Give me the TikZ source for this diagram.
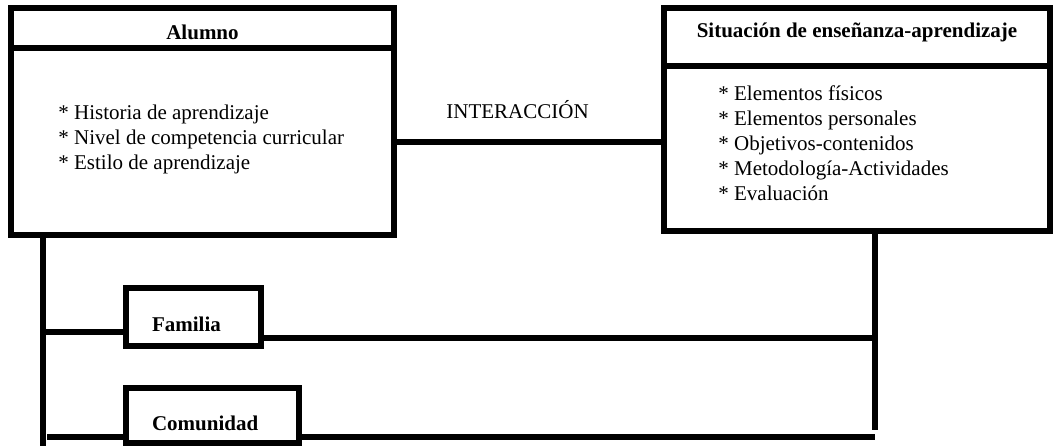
\documentclass[tikz,border=0pt]{standalone}
\usepackage{fontspec}
\setmainfont{Liberation Serif}
\usetikzlibrary{shapes}
\usetikzlibrary{positioning}
\tikzstyle{header} = [rectangle, draw=black, line width=3pt, text centered, font=\fontsize{10.5}{12.5}\selectfont\bfseries]
\tikzstyle{panel} = [rectangle, draw=black, line width=3pt]
\tikzstyle{items} = [align=left, inner sep=0pt, font=\fontsize{10.5}{12.5}\selectfont]
\tikzstyle{tag} = [rectangle, draw=black, line width=3pt, align=left, inner xsep=13pt, text height=14.5pt, text depth=0pt, font=\fontsize{10.5}{12.5}\selectfont\bfseries]
\tikzstyle{link} = [line width=3pt]

\begin{document}
\begin{tikzpicture}[node distance=2cm]
\useasboundingbox (0,0) rectangle (528pt,223pt);

\node [header, minimum width=191.5pt, minimum height=20pt, text height=11.1pt, text depth=0pt] (alumnoHead) at (101.25pt,209pt) {Alumno};
\node [panel, below of = alumnoHead, minimum width=191.5pt, minimum height=93.5pt] (alumnoBody) {};
\node [items, right=25pt of alumnoBody.west, yshift=1.25pt] (alumnoList) {* Historia de aprendizaje\\ * Nivel de competencia curricular\\ * Estilo de aprendizaje};

\node [header, right of = alumnoHead, xshift=270.35pt, yshift=-4.5pt, minimum width=193pt, minimum height=29pt, text height=7.5pt, text depth=7.3pt] (situHead) {Situación de enseñanza-aprendizaje};
\node [panel, below of = situHead, yshift=1.15pt, minimum width=193pt, minimum height=82.5pt] (situBody) {};
\node [items, right=28.5pt of situBody.west, yshift=2.75pt] (situList) {* Elementos físicos\\ * Elementos personales\\ * Objetivos-contenidos\\ * Metodología-Actividades\\ * Evaluación};

\node [tag, below of = alumnoBody, xshift=-4.5pt, yshift=-30.85pt, text width=41.5pt, minimum height=29pt] (familia) {Familia};
\node [tag, below of = familia, xshift=9.5pt, yshift=7.65pt, text width=60.5pt, minimum height=27.5pt] (comunidad) {Comunidad};

\coordinate (leftTop) at ([xshift=-79.75pt]alumnoBody.south);
\coordinate (leftBot) at (leftTop |- 0,0);
\coordinate (rightTop) at ([xshift=9pt]situBody.south);
\coordinate (rightBot) at (rightTop |- 0,8pt);

\draw [link] (alumnoBody.east) -- node [items, above=10pt, xshift=-5.75pt] (interaccion) {INTERACCIÓN} (alumnoBody.east -| situBody.west);
\draw [link] (leftTop) -- (leftBot);
\draw [link] (rightTop) -- (rightBot);

\draw [link] ([yshift=-7.5pt]familia.west) -- ([yshift=-7.5pt]familia.west -| leftTop);
\draw [link] ([yshift=-10.5pt]familia.east) -- ([yshift=-10.5pt]familia.east -| rightTop);
\draw [link, shorten >=2pt] ([yshift=-10.75pt]comunidad.west) -- ([yshift=-10.75pt]comunidad.west -| leftTop);
\draw [link] ([yshift=-10.75pt]comunidad.east) -- ([yshift=-10.75pt]comunidad.east -| rightTop);

\end{tikzpicture}
\end{document}
